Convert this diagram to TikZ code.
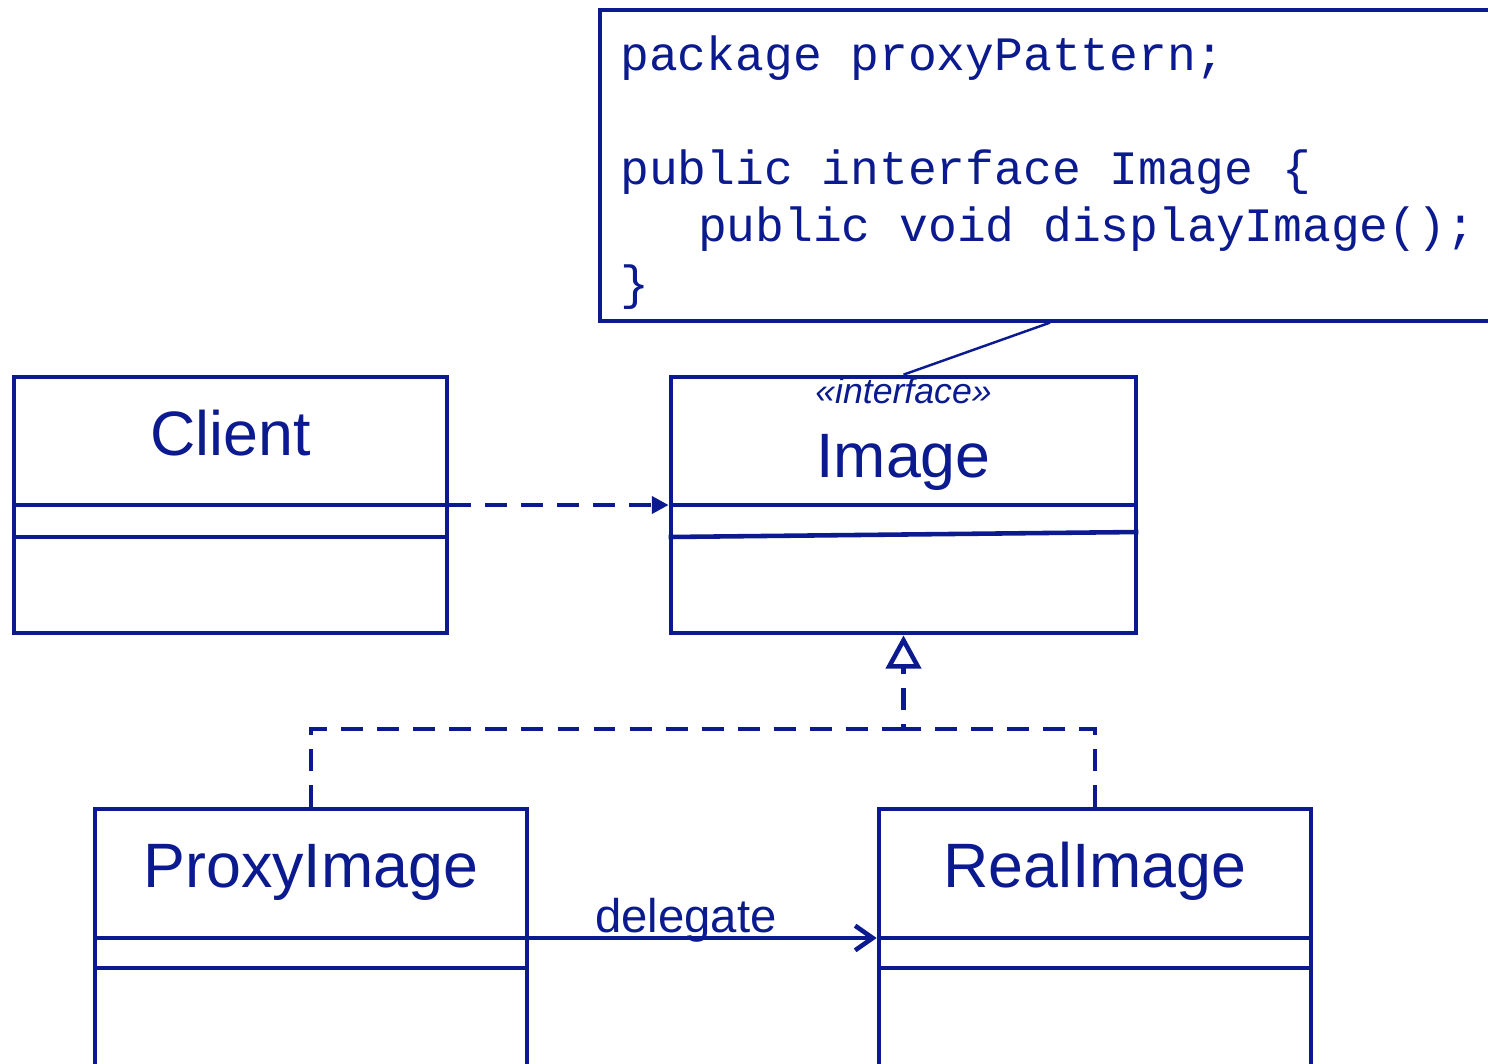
\documentclass[tikz,border=0pt]{standalone}
\usepackage{fontspec}
\setsansfont{Liberation Sans}
\setmonofont{Liberation Mono}
\usetikzlibrary{arrows.meta,positioning,calc}
\definecolor{umlblue}{HTML}{0B1A8E}
\tikzset{
  classbox/.style={rectangle, draw=umlblue, line width=2.7pt, inner sep=0pt},
  classname/.style={text=umlblue, font=\fontsize{35.7}{40}\sffamily,
    inner sep=0pt, anchor=base},
  stereotype/.style={text=umlblue, font=\fontsize{20.3}{24}\sffamily\itshape,
    inner sep=0pt, anchor=base},
  notebox/.style={rectangle, draw=umlblue, line width=1.9pt, inner sep=0pt},
  codetext/.style={text=umlblue, font=\fontsize{27.3}{32.6}\ttfamily,
    align=left, inner sep=0pt},
  compline/.style={draw=umlblue, line width=2.6pt},
  dependarrow/.style={draw=umlblue, line width=2.6pt,
    dash pattern=on 12.5pt off 8pt, -{Triangle[length=9.5pt,width=9.5pt]}},
  realizearrow/.style={draw=umlblue, line width=2.6pt,
    dash pattern=on 12.5pt off 8pt},
  assocarrow/.style={draw=umlblue, line width=2.6pt,
    -{Straight Barb[length=10pt,width=14pt]}},
  assoclabel/.style={text=umlblue, font=\fontsize{26.9}{30}\sffamily,
    inner sep=0pt, anchor=base},
  notelink/.style={draw=umlblue, line width=1.4pt},
}
\begin{document}
\begin{tikzpicture}[x=0.02cm, y=-0.02cm]
  \clip (0,0) rectangle (1488,1063);
  % note with the interface code
  \node[notebox, minimum width=18cm, minimum height=6.22cm] (note) at (1050,165.5) {};
  \node[codetext, anchor=north west] (notecode) at (620,35)
    {package proxyPattern;\\ \mbox{}\\ public interface Image \{\\
     \hspace*{1.62em}public void displayImage();\\ \}};
  % classes
  \node[classbox, minimum width=8.66cm, minimum height=5.12cm] (client) at (230.5,505) {};
  \node[classname] (clientname) at (230.5,455) {Client};
  \draw[compline] (client.west) -- (client.east);
  \draw[compline] (client.west |- 0,537) -- (client.east |- 0,537);
  \node[classbox, minimum width=9.3cm, minimum height=5.12cm] (image) at (903.5,505) {};
  \node[stereotype] (imagestereo) at (903.5,403) {«interface»};
  \node[classname] (imagename) at (903.5,477) {Image};
  \draw[compline] (image.west) -- (image.east);
  \draw[compline] (image.west |- 0,537) -- (image.east |- 0,532);
  \node[classbox, minimum width=8.64cm, minimum height=5.82cm] (proxy) at (311,954.5) {};
  \node[classname] (proxyname) at (311,887) {ProxyImage};
  \draw[compline] (proxy.west |- 0,938) -- (proxy.east |- 0,938);
  \draw[compline] (proxy.west |- 0,968) -- (proxy.east |- 0,968);
  \node[classbox, minimum width=8.64cm, minimum height=5.82cm] (real) at (1095,954.5) {};
  \node[classname] (realname) at (1095,887) {RealImage};
  \draw[compline] (real.west |- 0,938) -- (real.east |- 0,938);
  \draw[compline] (real.west |- 0,968) -- (real.east |- 0,968);
  % relations
  \draw[notelink] (note.south) -- (image.north);
  \draw[dependarrow] (client.east) -- (image.west);
  \coordinate (junction) at (903.5,729);
  \draw[realizearrow] (proxy.north) |- (junction);
  \draw[realizearrow, -{Triangle[open,length=19pt,width=20pt]}]
    (real.north) |- (junction) -- (image.south);
  \coordinate (proxydel) at (proxy.east |- 0,938);
  \coordinate (realdel) at (real.west |- 0,938);
  \draw[assocarrow] (proxydel) -- (realdel);
  \node[assoclabel] (delegatelabel) at (686,932) {delegate};
\end{tikzpicture}
\end{document}
